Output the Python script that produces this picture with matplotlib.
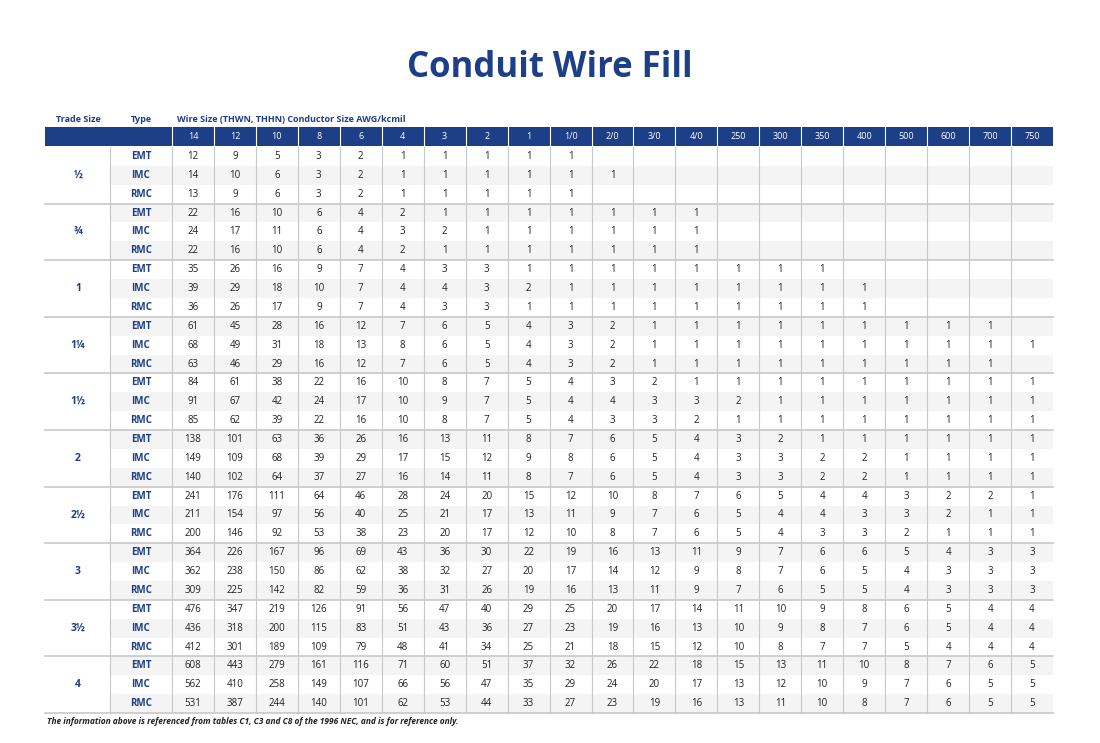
import matplotlib
matplotlib.use("Agg")
import matplotlib.pyplot as plt
from matplotlib.patches import Rectangle

wire_sizes = ["14","12","10","8","6","4","3","2","1","1/0","2/0","3/0","4/0","250","300","350","400","500","600","700","750"]
trade_sizes = ["½","¾","1","1¼","1½","2","2½","3","3½","4"]
types = ["EMT","IMC","RMC"]
fill = [
 ["12 9 5 3 2 1 1 1 1 1","14 10 6 3 2 1 1 1 1 1 1","13 9 6 3 2 1 1 1 1 1"],
 ["22 16 10 6 4 2 1 1 1 1 1 1 1","24 17 11 6 4 3 2 1 1 1 1 1 1","22 16 10 6 4 2 1 1 1 1 1 1 1"],
 ["35 26 16 9 7 4 3 3 1 1 1 1 1 1 1 1","39 29 18 10 7 4 4 3 2 1 1 1 1 1 1 1 1","36 26 17 9 7 4 3 3 1 1 1 1 1 1 1 1 1"],
 ["61 45 28 16 12 7 6 5 4 3 2 1 1 1 1 1 1 1 1 1","68 49 31 18 13 8 6 5 4 3 2 1 1 1 1 1 1 1 1 1 1","63 46 29 16 12 7 6 5 4 3 2 1 1 1 1 1 1 1 1 1"],
 ["84 61 38 22 16 10 8 7 5 4 3 2 1 1 1 1 1 1 1 1 1","91 67 42 24 17 10 9 7 5 4 4 3 3 2 1 1 1 1 1 1 1","85 62 39 22 16 10 8 7 5 4 3 3 2 1 1 1 1 1 1 1 1"],
 ["138 101 63 36 26 16 13 11 8 7 6 5 4 3 2 1 1 1 1 1 1","149 109 68 39 29 17 15 12 9 8 6 5 4 3 3 2 2 1 1 1 1","140 102 64 37 27 16 14 11 8 7 6 5 4 3 3 2 2 1 1 1 1"],
 ["241 176 111 64 46 28 24 20 15 12 10 8 7 6 5 4 4 3 2 2 1","211 154 97 56 40 25 21 17 13 11 9 7 6 5 4 4 3 3 2 1 1","200 146 92 53 38 23 20 17 12 10 8 7 6 5 4 3 3 2 1 1 1"],
 ["364 226 167 96 69 43 36 30 22 19 16 13 11 9 7 6 6 5 4 3 3","362 238 150 86 62 38 32 27 20 17 14 12 9 8 7 6 5 4 3 3 3","309 225 142 82 59 36 31 26 19 16 13 11 9 7 6 5 5 4 3 3 3"],
 ["476 347 219 126 91 56 47 40 29 25 20 17 14 11 10 9 8 6 5 4 4","436 318 200 115 83 51 43 36 27 23 19 16 13 10 9 8 7 6 5 4 4","412 301 189 109 79 48 41 34 25 21 18 15 12 10 8 7 7 5 4 4 4"],
 ["608 443 279 161 116 71 60 51 37 32 26 22 18 15 13 11 10 8 7 6 5","562 410 258 149 107 66 56 47 35 29 24 20 17 13 12 10 9 7 6 5 5","531 387 244 140 101 62 53 44 33 27 23 19 16 13 11 10 8 7 6 5 5"],
]

BLUE = "#1d3f87"
plt.rcParams['font.family'] = ['Open Sans', 'DejaVu Sans']
fig = plt.figure(figsize=(11, 7.43), dpi=100)
ax = fig.add_axes([0, 0, 1, 1])
ax.set_xlim(0, 1100); ax.set_ylim(743, 0); ax.axis('off')

x0, xt, xd, x1 = 45, 110, 172, 1053
cw = (x1 - xd) / len(wire_sizes)
hy0, hy1 = 127, 146
ry0, rh = 147, 18.87

ax.text(550, 68, "Conduit Wire Fill", ha='center', va='center', fontsize=25, fontweight='bold', color=BLUE)
ax.text(78, 120, "Trade Size", ha='center', va='center', fontsize=6.5, fontweight='bold', color=BLUE)
ax.text(141, 120, "Type", ha='center', va='center', fontsize=6.5, fontweight='bold', color=BLUE)
ax.text(177, 120, "Wire Size (THWN, THHN) Conductor Size AWG/kcmil", ha='left', va='center', fontsize=6.5, fontweight='bold', color=BLUE)

ax.add_patch(Rectangle((x0, hy0), x1 - x0, hy1 - hy0, color=BLUE, lw=0))
for j, w in enumerate(wire_sizes):
    cx = xd + (j + 0.5) * cw
    ax.text(cx, (hy0 + hy1) / 2, w, ha='center', va='center', fontsize=6.5, color='white')
    ax.plot([xd + j * cw] * 2, [hy0, hy1], color='white', lw=0.8)

nrows = len(trade_sizes) * 3
for r in range(nrows):
    y = ry0 + r * rh
    if r % 2 == 1:
        ax.add_patch(Rectangle((xt, y), x1 - xt, rh, color='#f4f4f4', lw=0))
for g, ts in enumerate(trade_sizes):
    gy = ry0 + g * 3 * rh
    ax.text(78, gy + 1.5 * rh, ts, ha='center', va='center', fontsize=7.5, fontweight='bold', color=BLUE)
    for k, t in enumerate(types):
        cy = gy + (k + 0.5) * rh
        ax.text(141, cy, t, ha='center', va='center', fontsize=7, fontweight='bold', color=BLUE)
        for j, v in enumerate(fill[g][k].split()):
            ax.text(xd + (j + 0.5) * cw, cy, v, ha='center', va='center', fontsize=7, color='#222222')
    if g > 0:
        ax.plot([x0, x1], [gy, gy], color='#c8c8c8', lw=1.2)
yend = ry0 + nrows * rh
ax.plot([x0, x1], [yend, yend], color='#c8c8c8', lw=1.2)
for xv in [xt] + [xd + j * cw for j in range(len(wire_sizes))]:
    ax.plot([xv, xv], [ry0, yend], color='#c8c8c8', lw=0.8)

ax.text(47, 722, "The information above is referenced from tables C1, C3 and C8 of the 1996 NEC, and is for reference only.",
        ha='left', va='center', fontsize=6, fontweight='bold', style='italic', color='#222222')
fig.savefig("out.png", dpi=100)
